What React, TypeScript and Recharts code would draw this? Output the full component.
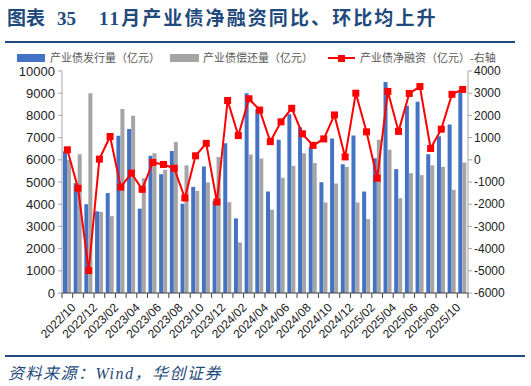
import { ComposedChart, Bar, Line, XAxis, YAxis } from 'recharts';

const months = [
  '2022/10', '2022/11', '2022/12', '2023/01', '2023/02', '2023/03', '2023/04', '2023/05',
  '2023/06', '2023/07', '2023/08', '2023/09', '2023/10', '2023/11', '2023/12', '2024/01',
  '2024/02', '2024/03', '2024/04', '2024/05', '2024/06', '2024/07', '2024/08', '2024/09',
  '2024/10', '2024/11', '2024/12', '2025/01', '2025/02', '2025/03', '2025/04', '2025/05',
  '2025/06', '2025/07', '2025/08', '2025/09', '2025/10', '2025/11'
];

// 产业债发行量（亿元）
const issuance = [
  6380, 4950, 4000, 3680, 4500, 7080, 7390, 3800, 6180, 5350, 6400, 4020, 4780, 5700, 4150, 6750,
  3360, 9000, 8280, 4570, 6900, 8050, 7470, 6570, 4990, 6960, 5800, 7090, 4570, 6070, 9510, 5580,
  8430, 8610, 6250, 7060, 7590, 9070
];

// 产业债偿还量（亿元）
const repayment = [
  6000, 6250, 9000, 3650, 3460, 8290, 7980, 5170, 6300, 5550, 6800, 5750, 4600, 4980, 6130, 4090,
  2280, 6240, 6060, 3750, 5190, 5730, 6300, 5860, 4080, 4930, 5680, 4080, 3330, 6900, 6450, 4270,
  5400, 5310, 5750, 5680, 4650, 5880
];

// 产业债净融资（亿元）- 右轴
const netFinancing = [
  450, -1280, -4990, 30, 1050, -1230, -600, -1330, -120, -210, -380, -1720, 180, 740, -1900, 2670,
  1090, 2750, 2240, 820, 1710, 2320, 1170, 650, 940, 2020, 130, 3000, 1260, -830, 3080, 1280,
  2990, 3300, 510, 1380, 2950, 3170
];

const leftTicks = [0, 1000, 2000, 3000, 4000, 5000, 6000, 7000, 8000, 9000, 10000];
const rightTicks = [-6000, -5000, -4000, -3000, -2000, -1000, 0, 1000, 2000, 3000, 4000];

const data = months.map((m, i) => ({
  month: m,
  issuance: issuance[i],
  repayment: repayment[i],
  net: netFinancing[i]
}));

const NAVY = '#1f4a7c';
const STEP = 406 / months.length;

const MonthTick = (props: any) => {
  const { x, y, payload, index } = props;
  const left = x - STEP / 2;
  return (
    <g>
      <line x1={left} y1={y} x2={left} y2={y + 5} stroke='#404040' />
      {index === months.length - 1 && (
        <line x1={x + STEP / 2} y1={y} x2={x + STEP / 2} y2={y + 5} stroke='#404040' />
      )}
      {index % 2 === 0 && (
        <text
          x={x + 3}
          y={y + 9}
          transform={`rotate(-45 ${x + 3} ${y + 9})`}
          textAnchor='end'
          dominantBaseline='hanging'
          fontSize={12}
          fontFamily='Liberation Sans, Arial, sans-serif'
          fill='#222'
        >
          {payload.value}
        </text>
      )}
    </g>
  );
};

const SquareDot = (props: any) => {
  const { cx, cy } = props;
  if (cx == null || cy == null) return null;
  return <rect x={cx - 3.5} y={cy - 3.5} width={7} height={7} fill='#ff0000' />;
};

const legendText = {
  fontSize: 11,
  lineHeight: '10px',
  color: '#595959',
  fontFamily: 'Liberation Sans, Noto Sans CJK SC, sans-serif'
};

export default function App() {
  return (
    <div
      style={{
        position: 'absolute',
        left: 0,
        top: 0,
        width: 531,
        height: 386,
        background: '#fff',
        overflow: 'hidden'
      }}
    >
      <div
        style={{
          position: 'absolute',
          left: 7,
          top: 3,
          fontSize: 19,
          fontWeight: 'bold',
          color: NAVY,
          fontFamily: 'Liberation Serif, Noto Sans CJK SC, serif',
          whiteSpace: 'pre'
        }}
      >
        <span>图表</span>
        <span style={{ marginLeft: 12 }}>35</span>
        <span style={{ marginLeft: 23, letterSpacing: 2.1 }}>11月产业债净融资同比、环比均上升</span>
      </div>
      <div
        style={{ position: 'absolute', left: 5, top: 41, width: 510, height: 2, background: NAVY }}
      />

      {/* 图例 */}
      <div style={{ position: 'absolute', left: 17, top: 53, display: 'flex', alignItems: 'center', whiteSpace: 'pre' }}>
        <span style={{ width: 28, height: 8, background: '#4472c4', marginRight: 5 }} />
        <span style={legendText}>产业债发行量（亿元）</span>
        <span style={{ width: 29, height: 8, background: '#a5a5a5', marginLeft: 10, marginRight: 4 }} />
        <span style={legendText}>产业债偿还量（亿元）</span>
        <span style={{ position: 'relative', width: 27, height: 8, marginLeft: 15, marginRight: 5 }}>
          <span style={{ position: 'absolute', left: 0, top: 3, width: 27, height: 2, background: '#ff0000' }} />
          <span style={{ position: 'absolute', left: 10, top: 0.5, width: 7, height: 7, background: '#ff0000' }} />
        </span>
        <span style={legendText}>产业债净融资（亿元）-右轴</span>
      </div>

      <div style={{ position: 'absolute', left: 0, top: 0 }}>
        <ComposedChart
          width={531}
          height={386}
          data={data}
          margin={{ top: 71, right: 13, bottom: 31, left: 12 }}
          barCategoryGap={1}
          barGap={0}
        >
          <XAxis
            dataKey='month'
            interval={0}
            height={62}
            tickSize={0}
            tickMargin={0}
            tickLine={false}
            axisLine={{ stroke: '#404040' }}
            tick={<MonthTick />}
          />
          <YAxis
            yAxisId='left'
            width={50}
            domain={[0, 10000]}
            ticks={leftTicks}
            interval={0}
            tickSize={4}
            tickMargin={3}
            axisLine={{ stroke: '#a6a6a6' }}
            tickLine={{ stroke: '#a6a6a6' }}
            tick={{ fontSize: 13, fill: '#222', fontFamily: 'Liberation Sans, Arial, sans-serif' }}
          />
          <YAxis
            yAxisId='right'
            orientation='right'
            width={50}
            domain={[-6000, 4000]}
            ticks={rightTicks}
            interval={0}
            tickSize={4}
            tickMargin={2}
            axisLine={{ stroke: '#a6a6a6' }}
            tickLine={{ stroke: '#a6a6a6' }}
            tick={{ fontSize: 12, fill: '#222', fontFamily: 'Liberation Sans, Arial, sans-serif' }}
          />
          <Bar yAxisId='left' dataKey='issuance' fill='#4472c4' isAnimationActive={false} />
          <Bar yAxisId='left' dataKey='repayment' fill='#a5a5a5' isAnimationActive={false} />
          <Line
            yAxisId='right'
            dataKey='net'
            stroke='#ff0000'
            strokeWidth={2}
            dot={<SquareDot />}
            activeDot={false}
            isAnimationActive={false}
          />
        </ComposedChart>
      </div>

      <div
        style={{ position: 'absolute', left: 5, top: 355, width: 520, height: 2, background: NAVY }}
      />
      <div
        style={{
          position: 'absolute',
          left: 8,
          top: 360,
          fontSize: 16,
          fontStyle: 'italic',
          color: NAVY,
          fontFamily: 'Liberation Serif, Noto Sans CJK SC, serif',
          whiteSpace: 'pre',
          letterSpacing: 1.5
        }}
      >
        资料来源：Wind，华创证券
      </div>
    </div>
  );
}
